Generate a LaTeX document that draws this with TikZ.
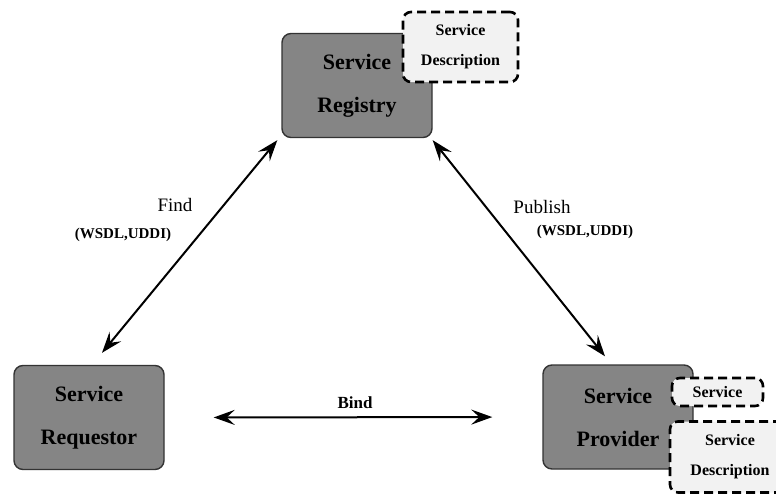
\documentclass[tikz,border=0pt]{standalone}
\usepackage{fontspec}
\setmainfont{Liberation Serif}
\usetikzlibrary{arrows.meta}
\begin{document}
\begin{tikzpicture}[x=1pt,y=-1pt,
  >={Stealth[length=21pt,width=15pt,inset=8pt]},
  role/.style={draw=black!80,line width=1.4pt,fill=black!48,rounded corners=9pt,
    minimum width=150pt,minimum height=104pt,align=center,inner sep=0pt,
    font=\fontsize{22}{43}\selectfont\bfseries},
  doc/.style={draw,dash pattern=on 9pt off 5pt,line width=2.6pt,fill=gray!10,
    rounded corners=8pt,align=center,inner sep=0pt,
    font=\fontsize{16}{30}\selectfont\bfseries},
  link/.style={<->,line width=2pt},
  lbl/.style={font=\fontsize{19}{19}\selectfont},
  via/.style={font=\fontsize{15}{15}\selectfont\bfseries}]
\useasboundingbox (0,0) rectangle (776,495);

% the three roles
\node[role] (reg) at (357,85.5) {Service\\Registry};
\node[doc,minimum width=115pt,minimum height=70pt] (regdesc) at (460.5,47) {Service\\Description};
\node[role] (req) at (89,417.5) {Service\\Requestor};
\node[role] (prov) at (618,417) {Service\\Provider};
\node[doc,minimum width=91pt,minimum height=28pt] (svc) at (717.5,392) {Service};
\node[doc,minimum width=120pt,minimum height=71pt] (provdesc) at (730,457) {Service\\Description};

% operations
\draw[link] ([shift={(-4pt,-2pt)}]reg.south west) -- ([shift={(13pt,12pt)}]req.north);
\draw[link] ([shift={(0pt,-2pt)}]reg.south east) -- ([shift={(-13pt,8pt)}]prov.north);
\draw[link,shorten <=49pt,shorten >=50pt] (req.east) -- (prov.west);

\node[lbl] (find) at (175,205) {Find};
\node[via] (findvia) at (123,235) {(WSDL,UDDI)};
\node[lbl] (pub) at (542,207) {Publish};
\node[via] (pubvia) at (585,232) {(WSDL,UDDI)};
\node[lbl,font=\fontsize{17}{17}\selectfont\bfseries] (bind) at (355,403) {Bind};
\end{tikzpicture}
\end{document}
